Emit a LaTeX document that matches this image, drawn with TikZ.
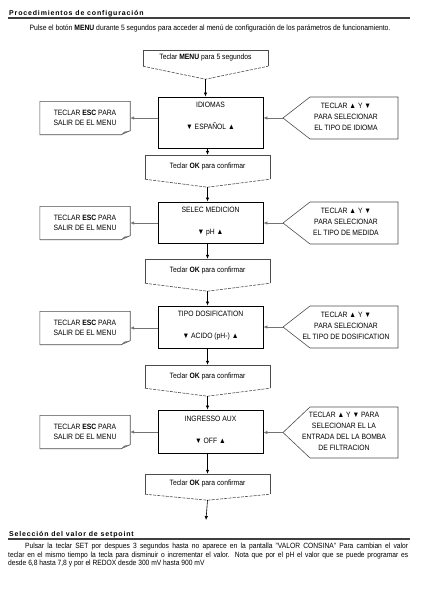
\documentclass[tikz,border=0pt]{standalone}
\usepackage{fontspec}
\setmainfont{Liberation Sans}[FakeStretch=0.88]
\newfontfamily\headfont{Liberation Sans}[LetterSpace=12]
\usetikzlibrary{arrows.meta,calc}

\tikzset{
  stepbox/.style={draw=black, line width=0.9pt, minimum width=105pt, inner sep=0pt},
  steptext/.style={anchor=north, align=center, inner sep=0pt, font=\fontsize{7.7}{22}\selectfont},
  escbox/.style={minimum width=90pt, minimum height=33pt, align=center, inner sep=0pt, font=\fontsize{7.7}{10}\selectfont},
  keytext/.style={align=center, inner sep=0pt, font=\fontsize{7.7}{11}\selectfont},
  okbox/.style={minimum width=125pt, inner sep=0pt, font=\fontsize{7.7}{8}\selectfont},
  outline/.style={draw=black!70, line width=0.6pt},
  flow/.style={-{Latex[length=4pt,width=3.5pt]}, line width=0.6pt},
  sideflow/.style={flow, draw=black!55}
}

\begin{document}
\begin{tikzpicture}[x=1pt,y=-1pt]
  \useasboundingbox (0,0) rectangle (421,600);
  % Titles
  \node[anchor=base west, inner sep=0pt, font=\headfont\bfseries\fontsize{7}{8}\selectfont] (procTitle) at (9,15.5) {Procedimientos de configuración};
  \draw[line width=1.2pt, black!75] (8,18) -- (410,18);
  \node[inner sep=0pt, font=\fontsize{7.7}{8}\selectfont] (intro) at (210,28) {Pulse el botón \textbf{MENU} durante 5 segundos para acceder al menú de configuración de los parámetros de funcionamiento.};

  % Teclar boxes
  \node[okbox, minimum height=16pt] (menu) at (205.5,58) {Teclar \textbf{MENU} para 5 segundos};
  \node[okbox, minimum height=24pt] (ok1) at (207.5,167) {Teclar \textbf{OK} para confirmar};
  \node[okbox, minimum height=24pt] (ok2) at (207.5,271) {Teclar \textbf{OK} para confirmar};
  \node[okbox, minimum height=23pt] (ok3) at (207.5,376.5) {Teclar \textbf{OK} para confirmar};
  \node[okbox, minimum height=20pt] (ok4) at (207.5,484) {Teclar \textbf{OK} para confirmar};
  \foreach \n/\d in {menu/13, ok1/8, ok2/8, ok3/8, ok4/6} {
      \coordinate (\n-dip) at ([yshift=-\d pt]\n.south);
      \draw[outline] (\n.south west) -- (\n.north west) -- (\n.north east) -- (\n.south east);
      \draw[outline, dash pattern=on 3pt off 1.2pt] (\n.south west) -- (\n-dip) -- (\n.south east);
    }

  % Menu steps
  \node[stepbox, minimum height=51pt] (idiomas) at (210.5,122.5) {};
  \node[stepbox, minimum height=41pt] (medicion) at (210.5,222.5) {};
  \node[stepbox, minimum height=42pt] (dosif) at (210.5,327) {};
  \node[stepbox, minimum height=43pt] (aux) at (210.5,431.5) {};
  \node[steptext] (idiomasT) at ([yshift=-5.5pt]idiomas.north) {IDIOMAS\\▼ ESPAÑOL ▲};
  \node[steptext] (medicionT) at ([yshift=-5.5pt]medicion.north) {SELEC MEDICION\\▼ pH ▲};
  \node[steptext] (dosifT) at ([yshift=-5.5pt]dosif.north) {TIPO DOSIFICATION\\▼ ACIDO (pH-) ▲};
  \node[steptext] (auxT) at ([yshift=-6.5pt]aux.north) {INGRESSO AUX\\▼ OFF ▲};

  % Exit notes
  \foreach \n/\y in {1/118, 2/223, 3/328, 4/432} {
      \node[escbox] (esc\n) at (85,\y) {TECLAR \textbf{ESC} PARA\\SALIR DE EL MENU};
      \draw[outline] (esc\n.north west) -- (esc\n.north east) -- ([yshift=4pt]esc\n.south east)
        -- ([xshift=-9pt]esc\n.south east) -- (esc\n.south west) -- cycle;
      \fill[black!55] ([yshift=4pt]esc\n.south east) -- ([xshift=-9pt]esc\n.south east)
        -- ([xshift=-6pt,yshift=3pt]esc\n.south east) -- cycle;
    }

  % Key hints
  \foreach \n/\y/\h in {1/118/21, 2/223/21, 3/327/21, 4/432.5/25.5} {
      \coordinate (tip\n) at (283,\y);
      \draw[outline] (398,\y-\h) -- (310,\y-\h) -- (tip\n) -- (310,\y+\h) -- (398,\y+\h) -- cycle;
    }
  \node[keytext] (key1) at (346,117) {TECLAR ▲ Y ▼\\PARA SELECIONAR\\EL TIPO DE IDIOMA};
  \node[keytext] (key2) at (346,222) {TECLAR ▲ Y ▼\\PARA SELECIONAR\\EL TIPO DE MEDIDA};
  \node[keytext] (key3) at (346,326) {TECLAR ▲ Y ▼\\PARA SELECIONAR\\EL TIPO DE DOSIFICATION};
  \node[keytext] (key4) at (344,431.5) {TECLAR ▲ Y ▼ PARA\\SELECIONAR EL LA\\ENTRADA DEL LA BOMBA\\DE FILTRACION};

  % Arrows
  \coordinate (end) at (206,520);
  \draw[flow] (menu-dip) -- (menu-dip |- idiomas.north);
  \draw[flow] (idiomas.south -| ok1.north) -- (ok1.north);
  \draw[flow] (ok1-dip) -- (ok1-dip |- medicion.north);
  \draw[flow] (medicion.south -| ok2.north) -- (ok2.north);
  \draw[flow] (ok2-dip) -- (ok2-dip |- dosif.north);
  \draw[flow] (dosif.south -| ok3.north) -- (ok3.north);
  \draw[flow] (ok3-dip) -- (ok3-dip |- aux.north);
  \draw[flow] (aux.south -| ok4.north) -- (ok4.north);
  \draw[flow] (ok4-dip) -- (end);
  \draw[sideflow] (tip1) -- (tip1 -| idiomas.east);
  \draw[sideflow] (tip2) -- (tip2 -| medicion.east);
  \draw[sideflow] (tip3) -- (tip3 -| dosif.east);
  \draw[sideflow] (tip4) -- (tip4 -| aux.east);
  \draw[sideflow] (idiomas.west |- esc1) -- (esc1.east);
  \draw[sideflow] (medicion.west |- esc2) -- (esc2.east);
  \draw[sideflow] (dosif.west |- esc3) -- (esc3.east);
  \draw[sideflow] (aux.west |- esc4) -- (esc4.east);

  % Setpoint
  \node[anchor=base west, inner sep=0pt, font=\headfont\bfseries\fontsize{7}{8}\selectfont] (setTitle) at (9,536.5) {Selección del valor de setpoint};
  \draw[line width=1.2pt, black!75] (8,539) -- (410,539);
  \node[anchor=north west, text width=400pt, align=justify, inner sep=0pt, font=\fontsize{7.6}{8.5}\selectfont] (setText) at (8,543) {\hspace*{17pt}Pulsar la teclar SET por despues 3 segundos hasta no aparece en la pantalla "VALOR CONSINA" Para cambian el valor\linebreak teclar en el mismo tiempo la tecla para disminuir o incrementar el valor. Nota que por el pH el valor que se puede programar es\linebreak desde 6,8 hasta 7,8 y por el REDOX desde 300 mV hasta 900 mV};
\end{tikzpicture}
\end{document}
